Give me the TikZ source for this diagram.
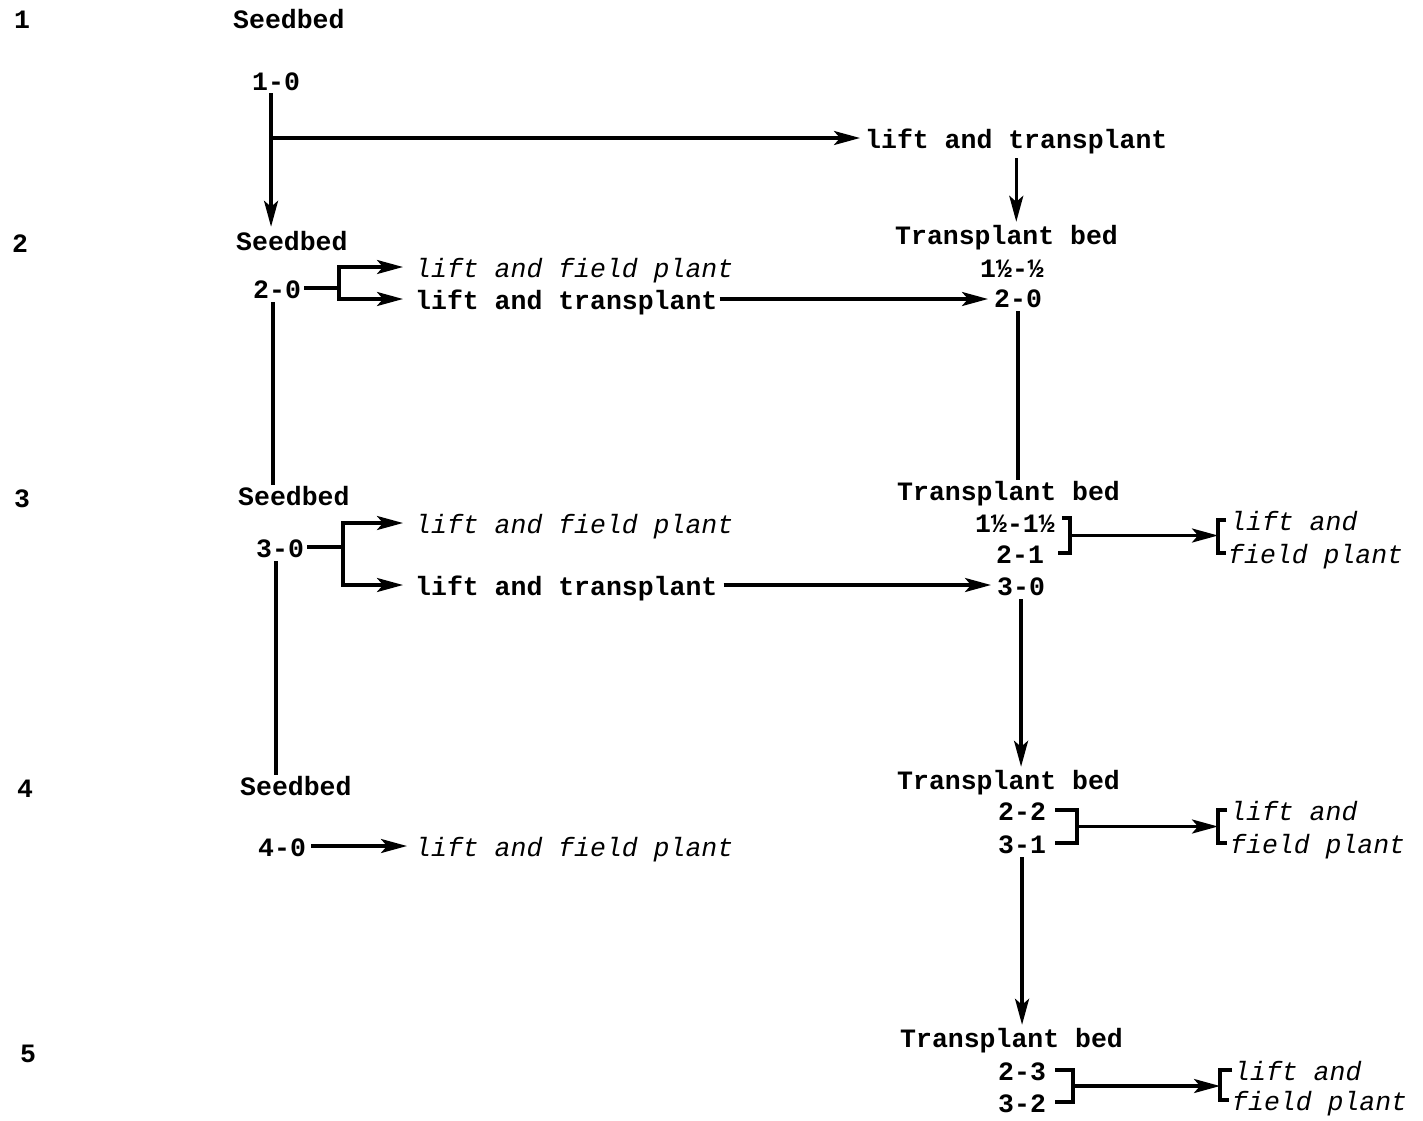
\documentclass[tikz,border=0pt]{standalone}
\usepackage{fontspec}
\setmainfont{Liberation Mono}
\usetikzlibrary{arrows.meta,calc}
\begin{document}
\begin{tikzpicture}[x=1pt,y=-1pt,
  t/.style={font=\fontsize{26.5}{30}\selectfont\bfseries, inner sep=0pt, text height=20pt, text depth=0pt, anchor=west},
  it/.style={font=\fontsize{26.5}{30}\selectfont\itshape, inner sep=0pt, text height=20pt, text depth=0pt, anchor=west},
  ln/.style={line width=3.3pt},
  arr/.style={ln, -{Stealth[length=26pt,width=14pt,inset=6pt]}}]
\useasboundingbox (0,0) rectangle (1423,1120);
% row labels
\node[t,anchor=center] (r1) at (22,18) {1};
\node[t,anchor=center] (r2) at (20,242) {2};
\node[t,anchor=center] (r3) at (22,497) {3};
\node[t,anchor=center] (r4) at (25,787) {4};
\node[t,anchor=center] (r5) at (28,1052) {5};
% left column
\node[t] (sb1) at (233,18) {Seedbed};
\node[t] (a10) at (252,80) {1-0};
\node[t] (sb2) at (236,240) {Seedbed};
\node[t] (a20) at (253,288) {2-0};
\node[it] (f2) at (415,267) {lift and field plant};
\node[t] (l2) at (415,299) {lift and transplant};
\node[t] (sb3) at (238,495) {Seedbed};
\node[t] (a30) at (256,547) {3-0};
\node[it] (f3) at (415,523) {lift and field plant};
\node[t] (l3) at (415,585) {lift and transplant};
\node[t] (sb4) at (240,785) {Seedbed};
\node[t] (a40) at (258,846) {4-0};
\node[it] (f4) at (415,846) {lift and field plant};
% right column
\node[t] (lt1) at (865,138) {lift and transplant};
\node[t] (tb2) at (895,234) {Transplant bed};
\node[t] (b2a) at (980,267) {1½-½};
\node[t] (b2b) at (994,297) {2-0};
\node[t] (tb3) at (897,490) {Transplant bed};
\node[t] (b3a) at (975,522) {1½-1½};
\node[t] (b3b) at (996,553) {2-1};
\node[t] (b3c) at (997,585) {3-0};
\node[it] (f3r1) at (1230,520) {lift and};
\node[it] (f3r2) at (1228,553) {field plant};
\node[t] (tb4) at (897,779) {Transplant bed};
\node[t] (b4a) at (998,810) {2-2};
\node[t] (b4b) at (998,843) {3-1};
\node[it] (f4r1) at (1230,810) {lift and};
\node[it] (f4r2) at (1230,843) {field plant};
\node[t] (tb5) at (900,1037) {Transplant bed};
\node[t] (b5a) at (998,1070) {2-3};
\node[t] (b5b) at (998,1102) {3-2};
\node[it] (f5r1) at (1234,1070) {lift and};
\node[it] (f5r2) at (1232,1100) {field plant};
% row 1 connectors
\coordinate (v1) at ([xshift=-5pt]a10.south);
\draw[arr,shorten <=3pt,shorten >=3pt] (v1) -- (v1 |- sb2.north);
\draw[arr,shorten >=5pt] (v1 |- lt1.west) -- (lt1.west);
\draw[arr,shorten <=10pt,shorten >=2pt] (lt1.south) -- (lt1.south |- tb2.north);
% row 2 connectors
\coordinate (k2) at ([xshift=38pt]a20.east);
\draw[ln,shorten <=3pt] (a20.east) -- (k2);
\draw[arr,shorten >=12pt] (k2) -- (k2 |- f2.west) -- (f2.west);
\draw[arr,shorten >=12pt] (k2) -- (k2 |- l2.west) -- (l2.west);
\draw[arr,shorten <=2pt,shorten >=6pt] (l2.east) -- (l2.east -| b2b.west);
\coordinate (v2) at ([xshift=-4pt]a20.south);
\draw[ln,shorten <=4pt] (v2) -- (v2 |- sb3.north);
\draw[ln,shorten <=4pt] (b2b.south) -- (b2b.south |- tb3.north);
% row 3 connectors
\coordinate (k3) at ([xshift=39pt]a30.east);
\draw[ln,shorten <=3pt] (a30.east) -- (k3);
\draw[arr,shorten >=12pt] (k3) -- (k3 |- f3.west) -- (f3.west);
\draw[arr,shorten >=12pt] (k3) -- (k3 |- l3.west) -- (l3.west);
\draw[arr,shorten <=6pt,shorten >=6pt] (l3.east) -- (l3.east -| b3c.west);
\coordinate (v3) at ([xshift=-4pt]a30.south);
\draw[ln,shorten <=4pt] (v3) -- (v3 |- sb4.north);
\draw[arr,shorten <=4pt,shorten >=2pt] (b3c.south) -- (b3c.south |- tb4.north);
\coordinate (rb3) at ([xshift=15pt,yshift=4pt]b3a.east);
\draw[ln] (rb3) ++(-8,0) -- ++(8,0) -- (rb3 |- b3b.east) -- ++(-12,0);
\coordinate (lb3) at ([xshift=-12pt]f3r1.west);
\draw[ln] (lb3) ++(8,0) -- ++(-8,0) -- (lb3 |- f3r2.west) -- ++(8,0);
\coordinate (m3) at ($(rb3)!.5!(rb3 |- b3b.east)$);
\draw[arr,shorten <=2pt] (m3) -- (m3 -| lb3);
% row 4 connectors
\draw[arr,shorten <=5pt,shorten >=8pt] (a40.east) -- (f4.west);
\draw[arr,shorten <=4pt,shorten >=2pt] (b4b.south) -- (b4b.south |- tb5.north);
\coordinate (rb4) at ([xshift=31pt]b4a.east);
\draw[ln] (rb4) ++(-22,0) -- ++(22,0) -- (rb4 |- b4b.east) -- ++(-22,0);
\coordinate (lb4) at ([xshift=-12pt]f4r1.west);
\draw[ln] (lb4) ++(9,0) -- ++(-9,0) -- (lb4 |- f4r2.west) -- ++(9,0);
\coordinate (m4) at ($(rb4)!.5!(rb4 |- b4b.east)$);
\draw[arr,shorten <=2pt] (m4) -- (m4 -| lb4);
% row 5 connectors
\coordinate (rb5) at ([xshift=27pt]b5a.east);
\draw[ln] (rb5) ++(-18,0) -- ++(18,0) -- (rb5 |- b5b.east) -- ++(-18,0);
\coordinate (lb5) at ([xshift=-12pt]f5r2.west);
\draw[ln] (lb5 |- f5r1.west) ++(12,0) -- ++(-12,0) -- (lb5) -- ++(9,0);
\coordinate (m5) at ($(rb5)!.5!(rb5 |- b5b.east)$);
\draw[arr,shorten <=2pt] (m5) -- (m5 -| lb5);
\end{tikzpicture}
\end{document}
